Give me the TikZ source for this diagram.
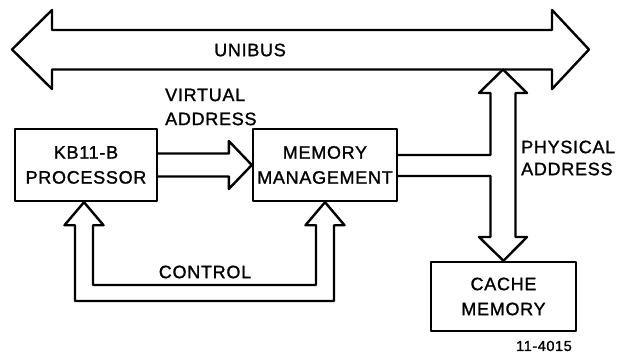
\documentclass[tikz,border=0pt]{standalone}
\usepackage{fontspec}
\setmainfont{Liberation Sans}[LetterSpace=4,FakeBold=1.3]
\usetikzlibrary{calc}
\begin{document}
\begin{tikzpicture}[x=1pt,y=-1pt,line width=2.4pt,line join=round,
  box/.style={draw,minimum width=144pt,minimum height=72pt,align=center,inner sep=0pt,
    font=\fontsize{18}{25}\selectfont},
  lbl/.style={inner sep=0pt,font=\fontsize{18}{24}\selectfont},
  small/.style={inner sep=0pt,font=\fontsize{14.5}{16}\selectfont}]
\useasboundingbox (0,0) rectangle (630,353);

% boxes
\node[box,minimum width=142pt] (kb) at (86,165) {KB11-B\\PROCESSOR};
\node[box] (mm) at (325,165) {MEMORY\\MANAGEMENT};
\node[box,minimum width=145pt,minimum height=69pt] (cache) at (503.5,296.5) {CACHE\\MEMORY};

% unibus
\coordinate (busL) at (12,49.5);
\coordinate (busR) at (589,49.5);
\draw (busL) -- (52,10) -- (52,30) -- (552,30) -- (552,10) -- (busR)
  -- (552,89) -- (552,69.5) -- (52,69.5) -- (52,89) -- cycle;
\node[lbl] (unibus) at (250,50) {UNIBUS};

% virtual address arrow
\draw ($(kb.east)+(0,-11.5)$) -- ($(mm.west)+(-23,-11.5)$) -- ($(mm.west)+(-23,-24)$)
  -- (mm.west) -- ($(mm.west)+(-23,24)$) -- ($(mm.west)+(-23,11.5)$) -- ($(kb.east)+(0,11.5)$);
\node[lbl,anchor=west,align=left] (va) at (164,107) {VIRTUAL\\ADDRESS};

% physical address arrow
\coordinate (ptop) at (503,69.5);
\draw ($(mm.east)+(0,11)$) -- (490.5,176) -- (490.5,237) -- (479,237) -- (cache.north)
  -- (527,237) -- (515.5,237) -- (515.5,93) -- (527,93) -- (ptop) -- (479,93)
  -- (490.5,93) -- (490.5,155) -- ($(mm.east)+(0,-10)$);
\node[lbl,anchor=west,align=left,font=\fontsize{18}{22}\selectfont] (pa) at (520,158) {PHYSICAL\\ADDRESS};

% control arrow
\coordinate (kbtip) at ($(kb.south)+(-2,0)$);
\draw (kbtip) -- ($(kbtip)+(19.5,23)$) -- ($(kbtip)+(9,23)$) -- (93,285) -- (316,285)
  -- ($(mm.south)+(-9,23)$) -- ($(mm.south)+(-19.5,23)$) -- (mm.south)
  -- ($(mm.south)+(19.5,23)$) -- ($(mm.south)+(9,23)$) -- (334,301) -- (75,301)
  -- ($(kbtip)+(-9,23)$) -- ($(kbtip)+(-19.5,23)$) -- cycle;
\node[lbl] (ctl) at (205,272) {CONTROL};

\node[small] (fig) at (544,346) {11-4015};
\end{tikzpicture}
\end{document}
